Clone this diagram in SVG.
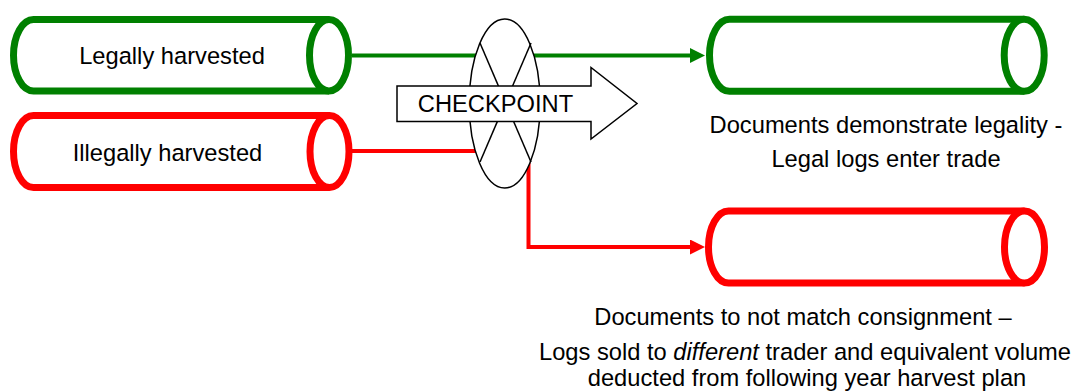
<svg xmlns="http://www.w3.org/2000/svg" width="1077" height="391" viewBox="0 0 1077 391">
<style>
  text { font-family: "Liberation Sans", Arial, sans-serif; font-size: 23.7px; fill: #000; }
  .g { stroke: #008000; }
  .r { stroke: #FF0000; }
  .cyl { fill: #fff; stroke-width: 7; }
  .conn { fill: none; stroke-width: 4; }
  .blk { fill: #fff; stroke: #000; stroke-width: 1.5; }
</style>
<defs>
  <marker id="ag" markerUnits="userSpaceOnUse" markerWidth="15" markerHeight="15" refX="2" refY="7.5" orient="auto">
    <path d="M0,0 L15,7.5 L0,15 z" fill="#008000"/>
  </marker>
  <marker id="ar" markerUnits="userSpaceOnUse" markerWidth="15" markerHeight="15" refX="2" refY="7.5" orient="auto">
    <path d="M0,0 L15,7.5 L0,15 z" fill="#FF0000"/>
  </marker>
</defs>
<rect width="1077" height="391" fill="#fff"/>

<g id="connectors">
  <path class="conn g" d="M352,55.5 H692" marker-end="url(#ag)"/>
  <path class="conn r" d="M352,151 H528.5 V247 H692" marker-end="url(#ar)"/>
</g>

<g id="checkpoint">
  <ellipse class="blk" cx="504.7" cy="103.5" rx="35.5" ry="84.5"/>
  <line x1="480" y1="43" x2="531" y2="162" stroke="#000" stroke-width="1.5"/>
  <line x1="531" y1="43" x2="480" y2="162" stroke="#000" stroke-width="1.5"/>
  <polygon class="blk" points="397,86 591,86 591,67.5 637,103.5 591,139 591,121.5 397,121.5"/>
  <text x="495.5" y="111.5" text-anchor="middle">CHECKPOINT</text>
</g>

<g id="legal-source">
  <path class="cyl g" d="M329,19.5 H33.5 A20,35.75 0 0 0 33.5,91 H329"/>
  <ellipse class="cyl g" cx="329" cy="55.25" rx="19.5" ry="35.75"/>
  <text x="172" y="64" text-anchor="middle">Legally harvested</text>
</g>

<g id="illegal-source">
  <path class="cyl r" d="M329.5,115.5 H33.5 A20,36 0 0 0 33.5,187.5 H329.5"/>
  <ellipse class="cyl r" cx="329.5" cy="151.5" rx="19.5" ry="36"/>
  <text x="167.5" y="161" text-anchor="middle">Illegally harvested</text>
</g>

<g id="legal-trade">
  <path class="cyl g" d="M1024.2,19.3 H729.5 A20,36 0 0 0 729.5,91.3 H1024.2"/>
  <ellipse class="cyl g" cx="1024.2" cy="55.3" rx="20" ry="36"/>
  <text x="886" y="133.3" text-anchor="middle">Documents demonstrate legality -</text>
  <text x="886" y="166.7" text-anchor="middle">Legal logs enter trade</text>
</g>

<g id="diverted">
  <path class="cyl r" d="M1024.5,211 H728.5 A20,36 0 0 0 728.5,283 H1024.5"/>
  <ellipse class="cyl r" cx="1024.5" cy="247" rx="20" ry="36"/>
  <text x="803" y="325" text-anchor="middle">Documents to not match consignment –</text>
  <text x="805" y="360" text-anchor="middle">Logs sold to <tspan font-style="italic">different</tspan> trader and equivalent volume</text>
  <text x="807" y="386" text-anchor="middle">deducted from following year harvest plan</text>
</g>
</svg>
